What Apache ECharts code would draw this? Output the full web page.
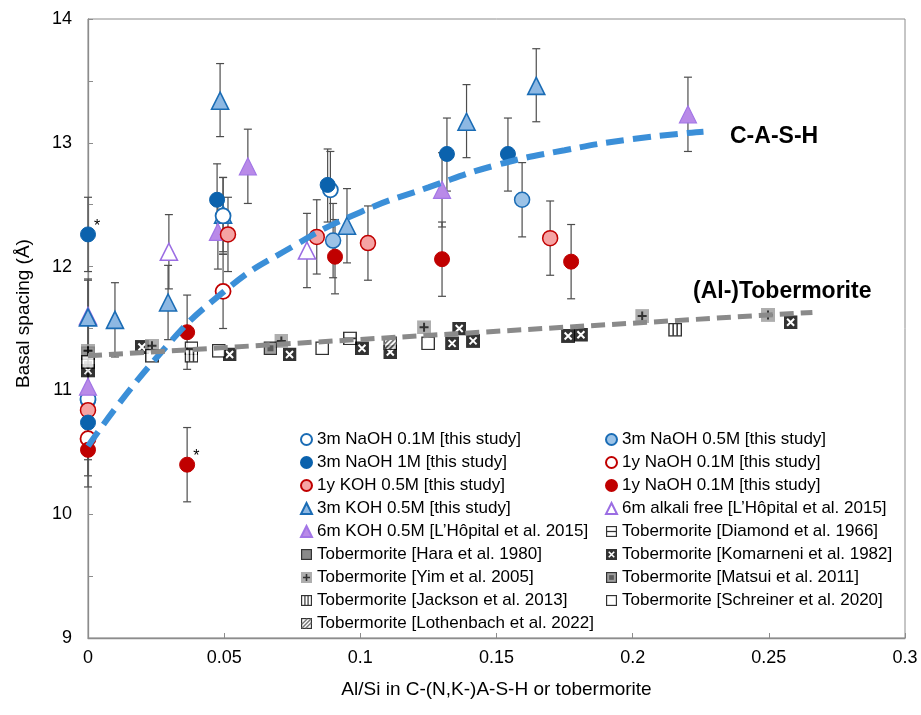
<!DOCTYPE html>
<html>
<head>
<meta charset="utf-8">
<title>Basal spacing vs Al/Si</title>
<script src="https://cdn.jsdelivr.net/npm/echarts@6/dist/echarts.min.js"></script>
<style>
  html, body { margin: 0; padding: 0; background: #fff; }
  #chart { width: 921px; height: 715px; }
</style>
</head>
<body>
<div id="chart"></div>
<script>
  // each point: [Al/Si, basal spacing (Å), error low, error high]
  const naoh3m01 = [[0, 10.93, 10.63, 11.23], [0.0496, 12.41, 12.10, 12.72], [0.089, 12.62, 12.32, 12.93]];
  const naoh3m05 = [[0, 10.92, 10.62, 11.22], [0.090, 12.21, 11.91, 12.51], [0.1594, 12.54, 12.24, 12.84]];
  const naoh3m1 = [[0, 12.26, 11.96, 12.56], [0.0474, 12.54, 12.25, 12.83], [0.088, 12.66, 12.36, 12.95],
    [0.1318, 12.91, 12.61, 13.20], [0.1542, 12.91, 12.61, 13.20], [0, 10.74, 10.44, 11.04]];
  const naoh1y01open = [[0, 10.61, 10.31, 10.91], [0.0496, 11.80, 11.50, 12.10]];
  const koh1y05 = [[0, 10.84, 10.54, 11.14], [0.0514, 12.26, 11.96, 12.56], [0.084, 12.24, 11.94, 12.54],
    [0.1028, 12.19, 11.89, 12.49], [0.1697, 12.23, 11.93, 12.53]];
  const naoh1y01 = [[0, 10.52, 10.22, 10.82], [0.0364, 11.47, 11.17, 11.77], [0.0364, 10.40, 10.10, 10.70],
    [0.0907, 12.08, 11.78, 12.38], [0.130, 12.06, 11.76, 12.36], [0.1774, 12.04, 11.74, 12.34]];
  const koh3m05 = [[0, 11.59, 11.29, 11.89], [0.0099, 11.57, 11.27, 11.87], [0.0294, 11.71, 11.41, 12.01],
    [0.0485, 13.34, 13.05, 13.64], [0.0496, 12.42, 12.12, 12.72], [0.0951, 12.33, 12.03, 12.63],
    [0.139, 13.17, 12.88, 13.47], [0.1646, 13.46, 13.17, 13.76]];
  const alkFree6m = [[0, 11.60, 11.30, 11.90], [0.0297, 12.12, 11.82, 12.42], [0.0804, 12.13, 11.83, 12.43]];
  const koh6m05 = [[0, 11.03, 10.73, 11.33], [0.0477, 12.28, 11.98, 12.58], [0.0587, 12.81, 12.51, 13.11],
    [0.130, 12.62, 12.32, 12.92], [0.2203, 13.23, 12.93, 13.53]];

  // tobermorite literature data [Al/Si, basal spacing]
  const diamond = [[0.038, 11.34], [0.0962, 11.42]];
  const hara = [[0, 11.30]];
  const komarneni = [[0, 11.16], [0.0198, 11.35], [0.052, 11.29], [0.074, 11.29], [0.1006, 11.34], [0.111, 11.31],
    [0.1337, 11.38], [0.1363, 11.50], [0.1414, 11.40], [0.1763, 11.44], [0.181, 11.45], [0.258, 11.55]];
  const yim = [[0, 11.32], [0.0235, 11.36], [0.071, 11.40], [0.1234, 11.51], [0.2035, 11.60], [0.2497, 11.61]];
  const matsui = [[0.067, 11.34]];
  const jackson = [[0.038, 11.28], [0.2156, 11.49]];
  const schreiner = [[0, 11.23], [0.0235, 11.28], [0.048, 11.32], [0.086, 11.34], [0.1249, 11.38]];
  const lothenbach = [[0.111, 11.38]];

  // dashed trend lines
  const cashTrend = [[0, 10.55], [0.025, 11.26], [0.05, 11.8], [0.075, 12.16], [0.1, 12.44], [0.125, 12.64],
    [0.15, 12.82], [0.175, 12.94], [0.2, 13.03], [0.226, 13.09]];
  const tobTrend = [[0, 11.28], [0.266, 11.63]];

  // points marked with an asterisk
  const starred = [[0, 12.26], [0.0364, 10.40]];

  const xTicks = [0, 0.05, 0.1, 0.15, 0.2, 0.25, 0.3];

  const font = 'Liberation Sans, Arial, sans-serif';

  function svgIcon(inner, fill) {
    let svg = "<svg xmlns='http://www.w3.org/2000/svg' width='14' height='14'>" +
      "<rect x='0.75' y='0.75' width='12.5' height='12.5' fill='" + fill + "' stroke='#000' stroke-width='1.5'/>" +
      inner + "</svg>";
    return 'image://data:image/svg+xml;charset=utf-8,' + encodeURIComponent(svg);
  }

  let icons = {
    diamond: svgIcon("<path d='M1 7H13' stroke='#000' stroke-width='1.6'/>", '#fff'),
    hara: svgIcon('', '#6e6e6e'),
    komarneni: svgIcon("<path d='M3.5 3.5L10.5 10.5M10.5 3.5L3.5 10.5' stroke='#fff' stroke-width='2'/>", '#000'),
    yim: "image://data:image/svg+xml;charset=utf-8," + encodeURIComponent(
      "<svg xmlns='http://www.w3.org/2000/svg' width='14' height='14'><rect width='14' height='14' fill='#9a9a9a'/>" +
      "<path d='M7 2.5V11.5M2.5 7H11.5' stroke='#000' stroke-width='2'/></svg>"),
    matsui: svgIcon("<rect x='4' y='4' width='6' height='6' fill='#333'/>", '#888'),
    jackson: svgIcon("<path d='M5 1V13M9 1V13' stroke='#000' stroke-width='1.5'/>", '#fff'),
    schreiner: svgIcon('', '#fff'),
    lothenbach: svgIcon("<path d='M1 13L13 1M1 8L8 1M6 13L13 6' stroke='#555' stroke-width='1.8'/>", '#fff')
  };

  function isStar(p) {
    return starred.some(function (s) { return s[0] === p[0] && s[1] === p[1]; });
  }

  function pts(arr) {
    return arr.map(function (p) {
      let item = { value: [p[0], p[1]] };
      if (isStar(p)) {
        item.label = { show: true, formatter: '*', position: 'right', offset: [-7, -8],
          color: '#000', fontSize: 16, fontFamily: font };
      }
      return item;
    });
  }

  function scatter(name, arr, symbol, size, fill, border, bw) {
    return {
      name: name, type: 'scatter', data: pts(arr), symbol: symbol, symbolSize: size, z: 3,
      itemStyle: { color: fill, borderColor: border, borderWidth: bw, opacity: 1 },
      emphasis: { disabled: true }
    };
  }

  function tober(name, arr, icon) {
    return {
      name: name, type: 'scatter', data: arr, symbol: icon, symbolSize: 14, z: 2,
      emphasis: { disabled: true }
    };
  }

  let errData = [].concat(naoh3m01, naoh3m05, naoh3m1, naoh1y01open, koh1y05, naoh1y01, koh3m05, alkFree6m, koh6m05)
    .map(function (p) { return [p[0], p[2], p[3]]; });

  let names = {
    a: '3m NaOH 0.1M [this study]',
    b: '3m NaOH 0.5M [this study]',
    c: '3m NaOH 1M [this study]',
    d: '1y NaOH 0.1M [this study]',
    e: '1y KOH 0.5M [this study]',
    f: '1y NaOH 0.1M [this study] ',
    g: '3m KOH 0.5M [this study]',
    h: '6m alkali free [L\u2019H\u00f4pital et al. 2015]',
    i: '6m KOH 0.5M [L\u2019H\u00f4pital et al. 2015]',
    j: 'Tobermorite [Diamond et al. 1966]',
    k: 'Tobermorite [Hara et al. 1980]',
    l: 'Tobermorite [Komarneni et al. 1982]',
    m: 'Tobermorite [Yim et al. 2005]',
    n: 'Tobermorite [Matsui et al. 2011]',
    o: 'Tobermorite [Jackson et al. 2013]',
    p: 'Tobermorite [Schreiner et al. 2020]',
    q: 'Tobermorite [Lothenbach et al. 2022]'
  };

  let legendBase = {
    orient: 'vertical', itemWidth: 11, itemHeight: 11, itemGap: 6, padding: 0,
    selectedMode: false,
    textStyle: { fontSize: 17, color: '#000', fontFamily: font }
  };

  let myChart = echarts.init(document.getElementById('chart'));

  let option = {
    animation: false,
    backgroundColor: '#fff',
    textStyle: { fontFamily: font },
    grid: { left: 88, right: 16, top: 19, bottom: 77, show: true, borderColor: '#8c8c8c', borderWidth: 1 },
    legend: [
      Object.assign({ left: 300, top: 431, data: [names.a, names.c, names.e, names.g, names.i, names.k, names.m, names.o, names.q] }, legendBase),
      Object.assign({ left: 605, top: 431, data: [names.b, names.d, names.f, names.h, names.j, names.l, names.n, names.p] }, legendBase)
    ],
    xAxis: {
      type: 'value', min: xTicks[0], max: xTicks[xTicks.length - 1], interval: 0.05,
      name: 'Al/Si in C-(N,K-)A-S-H or tobermorite', nameLocation: 'middle', nameGap: 42,
      nameTextStyle: { fontSize: 19, color: '#000', fontFamily: font },
      axisLine: { lineStyle: { color: '#8c8c8c', width: 1.3 } },
      axisTick: { inside: true, length: 5, lineStyle: { color: '#8c8c8c' } },
      axisLabel: { fontSize: 18, color: '#000', margin: 11, fontFamily: font },
      splitLine: { show: false }
    },
    yAxis: {
      type: 'value', min: 9, max: 14, interval: 1,
      name: 'Basal spacing (\u00c5)', nameLocation: 'middle', nameGap: 55,
      nameTextStyle: { fontSize: 19, color: '#000', fontFamily: font, padding: [0, 0, 0, 30] },
      axisLine: { lineStyle: { color: '#8c8c8c', width: 1.3 } },
      axisTick: { inside: true, length: 5, lineStyle: { color: '#8c8c8c' } },
      minorTick: { show: true, splitNumber: 2, length: 5, lineStyle: { color: '#8c8c8c' } },
      axisLabel: { fontSize: 18, color: '#000', margin: 16, fontFamily: font },
      splitLine: { show: false }
    },
    graphic: [
      { type: 'text', left: 730, top: 125, style: { text: 'C-A-S-H', font: 'bold 23px ' + font, fill: '#000' } },
      { type: 'text', left: 693, top: 280, style: { text: '(Al-)Tobermorite', font: 'bold 23px ' + font, fill: '#000' } }
    ],
    series: [
      {
        name: 'errors', type: 'custom', z: 1, silent: true,
        data: errData,
        renderItem: function (params, api) {
          let lo = api.coord([api.value(0), api.value(1)]);
          let hi = api.coord([api.value(0), api.value(2)]);
          let cap = 4;
          let st = { stroke: '#4d4d4d', lineWidth: 1.2 };
          return {
            type: 'group',
            children: [
              { type: 'line', shape: { x1: lo[0], y1: lo[1], x2: hi[0], y2: hi[1] }, style: st },
              { type: 'line', shape: { x1: lo[0] - cap, y1: lo[1], x2: lo[0] + cap, y2: lo[1] }, style: st },
              { type: 'line', shape: { x1: hi[0] - cap, y1: hi[1], x2: hi[0] + cap, y2: hi[1] }, style: st }
            ]
          };
        }
      },
      tober(names.j, diamond, icons.diamond),
      tober(names.k, hara, icons.hara),
      tober(names.l, komarneni, icons.komarneni),
      tober(names.m, yim, icons.yim),
      tober(names.n, matsui, icons.matsui),
      tober(names.o, jackson, icons.jackson),
      tober(names.p, schreiner, icons.schreiner),
      tober(names.q, lothenbach, icons.lothenbach),
      scatter(names.h, alkFree6m, 'triangle', 17, '#fff', '#9b6de3', 1.6),
      scatter(names.g, koh3m05, 'triangle', 17, '#8db8e3', '#1a6cb5', 1.6),
      scatter(names.b, naoh3m05, 'circle', 15, '#9cc3e7', '#1a6cb5', 1.5),
      scatter(names.a, naoh3m01, 'circle', 15, '#fff', '#1a6cb5', 1.8),
      scatter(names.i, koh6m05, 'triangle', 17, '#b98ae8', '#a275e6', 1.2),
      scatter(names.e, koh1y05, 'circle', 15, '#f5a3a3', '#c00000', 1.5),
      scatter(names.c, naoh3m1, 'circle', 15, '#0b62ad', '#0b62ad', 1),
      scatter(names.d, naoh1y01open, 'circle', 15, '#fff', '#c00000', 1.8),
      scatter(names.f, naoh1y01, 'circle', 15, '#c00000', '#c00000', 1),
      {
        name: 'C-A-S-H trend', type: 'line', data: cashTrend, smooth: true, symbol: 'none', z: 4, silent: true,
        lineStyle: { color: '#3b8fd8', width: 6, type: [18, 9], cap: 'butt' }
      },
      {
        name: 'Tobermorite trend', type: 'line', data: tobTrend, symbol: 'none', z: 4, silent: true,
        lineStyle: { color: '#8a8a8a', width: 5, type: [14, 7], cap: 'butt' }
      }
    ]
  };

  myChart.setOption(option);
</script>
</body>
</html>
